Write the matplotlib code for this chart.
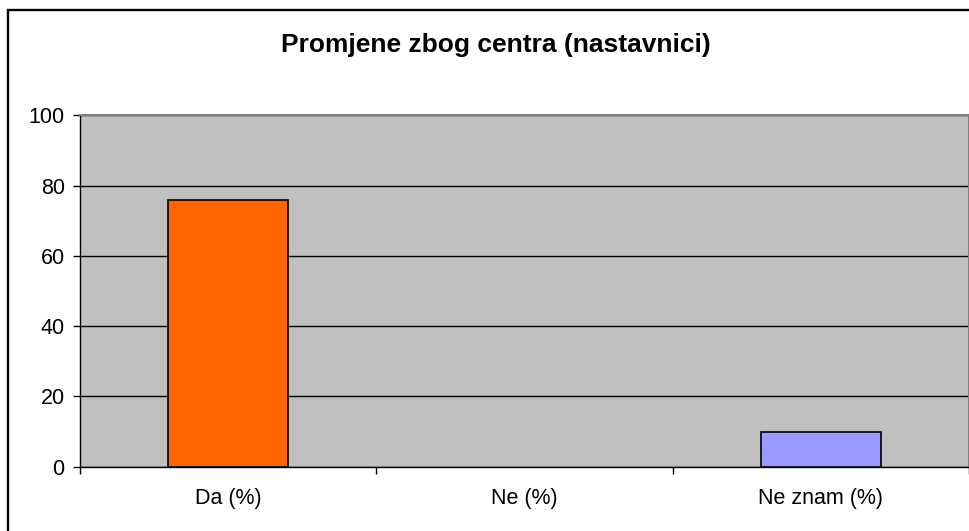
import matplotlib.pyplot as plt
from matplotlib.patches import Rectangle

categories = ["Da (%)", "Ne (%)", "Ne znam (%)"]
values = [76, 0, 10]
colors = ["#FF6600", "#FF6600", "#9999FF"]
yticks = [0, 20, 40, 60, 80, 100]

plt.rcParams['font.family'] = ['Liberation Sans', 'DejaVu Sans']

fig = plt.figure(figsize=[9.7, 5.31], dpi=100)
ax = fig.add_axes([80/970, (531-466.7)/531, (969-80)/970, (466.7-115.3)/531])
ax.set_facecolor("#C0C0C0")

x = range(len(categories))
# a zero bar shows no outline
edges = ["black" if v > 0 else "none" for v in values]
ax.bar(x, values, width=0.405, color=colors, edgecolor=edges, lw=1.2, zorder=3)

ax.set_xlim(-0.5, 2.5)
ax.set_ylim(0, 100)
ax.set_yticks(yticks)
ax.yaxis.grid(True, color="black", lw=1, zorder=0)
ax.set_axisbelow(True)

ax.set_xticks(list(x))
ax.set_xticklabels(categories)
ax.set_xticks([-0.5, 0.5, 1.5, 2.5], minor=True)
ax.tick_params(axis="x", which="major", length=0, pad=15, labelsize=15.5)
ax.tick_params(axis="x", which="minor", length=5, direction="out", color="black", width=1)
ax.tick_params(axis="y", length=5, direction="out", pad=6, labelsize=15.5, width=1)

for s in ["top", "right"]:
    ax.spines[s].set_color("#808080")
    ax.spines[s].set_linewidth(1.5)
ax.spines["left"].set_color("black")
ax.spines["bottom"].set_color("black")
ax.spines["left"].set_linewidth(1)
ax.spines["bottom"].set_linewidth(1)

fig.text(496/970, 1 - 45/531, "Promjene zbog centra (nastavnici)",
         ha="center", va="center", fontsize=19, fontweight="bold")

# chart area border
fig.patches.append(Rectangle((8/970, -0.05), 1.1, 1 - 10/531 + 0.05,
                             transform=fig.transFigure, fill=False,
                             edgecolor="black", lw=1.7))

fig.savefig("out.png", dpi=100)
